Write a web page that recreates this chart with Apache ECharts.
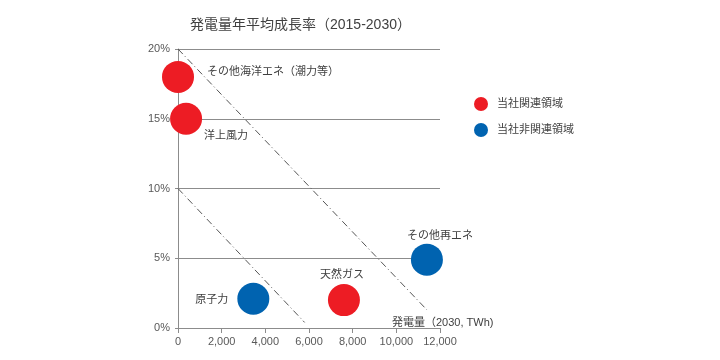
<!DOCTYPE html>
<html><head><meta charset="utf-8">
<script src="https://cdn.jsdelivr.net/npm/echarts@6/dist/echarts.min.js"></script>
<style>html,body{margin:0;padding:0;background:#fff}#c{width:720px;height:360px}</style>
</head><body><div id="c"></div>
<script>
const title = '発電量年平均成長率（2015-2030）';
const xName = '発電量（2030, TWh)';
const seriesNames = ['当社関連領域', '当社非関連領域'];
// [name, x (TWh 2030), growth %]
const relatedNames = ['その他海洋エネ（潮力等）', '洋上風力', '天然ガス'];
const relatedX = [0, 370, 7600];
const relatedY = [18.0, 15.0, 2.0];
const unrelatedNames = ['原子力', 'その他再エネ'];
const unrelatedX = [3450, 11400];
const unrelatedY = [2.1, 4.9];
// reference lines (dash-dot)
const line1X = [0, 11400];
const line1Y = [20, 1.3];
const line2X = [0, 5800];
const line2Y = [10, 0.4];

const font = '"Liberation Sans", "Noto Sans CJK JP", sans-serif';
const labelCfg = {
  'その他海洋エネ（潮力等）': {position: 'right', distance: 13, offset: [0, -5]},
  '洋上風力': {position: 'right', distance: 2, offset: [0, 17]},
  '天然ガス': {position: 'top', distance: 5, offset: [-2, 1]},
  '原子力': {position: 'left', distance: 9, offset: [0, 1]},
  'その他再エネ': {position: 'top', distance: 4, offset: [13, 2]}
};
function mk(names, xs, ys) {
  return names.map((n, i) => ({
    name: n, value: [xs[i], ys[i]],
    label: Object.assign({show: true, formatter: n, color: '#404040', fontSize: 11, fontFamily: font}, labelCfg[n])
  }));
}
const RED = '#ED1C24', BLUE = '#0063B0';
const chart = echarts.init(document.getElementById('c'), null, {renderer: 'canvas'});
chart.setOption({
  animation: false,
  title: {text: title, left: 185, top: 13, textStyle: {fontSize: 14, fontWeight: 'normal', color: '#404040', fontFamily: font}},
  grid: {left: 178, right: 280, top: 49, bottom: 32, containLabel: false},
  legend: {
    orient: 'vertical', left: 469, top: 92, itemWidth: 22, itemHeight: 14, itemGap: 12,
    icon: 'circle', data: seriesNames,
    textStyle: {fontSize: 11, color: '#404040', fontFamily: font}
  },
  xAxis: {
    type: 'value', min: 0, max: 12000, interval: 2000,
    name: xName, nameLocation: 'end', nameGap: -48,
    nameTextStyle: {align: 'left', verticalAlign: 'bottom', fontSize: 11, color: '#404040', fontFamily: font},
    axisLine: {show: true, lineStyle: {color: '#8c8c8c'}},
    axisTick: {show: true, length: 5, lineStyle: {color: '#8c8c8c'}},
    axisLabel: {fontSize: 11, color: '#595959', fontFamily: font, margin: 8,
      formatter: v => v.toLocaleString('en-US')},
    splitLine: {show: false}
  },
  yAxis: {
    type: 'value', min: 0, max: 20, interval: 5,
    axisLine: {show: true, lineStyle: {color: '#8c8c8c'}},
    axisTick: {show: true, length: 3, lineStyle: {color: '#8c8c8c'}},
    axisLabel: {fontSize: 11, color: '#595959', fontFamily: font, formatter: '{value}%', margin: 8},
    splitLine: {show: true, lineStyle: {color: '#8c8c8c'}}
  },
  series: [
    {type: 'line', data: line1X.map((x, i) => [x, line1Y[i]]), symbol: 'none', silent: true,
      lineStyle: {color: '#555', width: 1, type: [7, 3, 1, 3]}, z: 1},
    {type: 'line', data: line2X.map((x, i) => [x, line2Y[i]]), symbol: 'none', silent: true,
      lineStyle: {color: '#555', width: 1, type: [7, 3, 1, 3]}, z: 1},
    {name: seriesNames[0], type: 'scatter', symbolSize: 32, itemStyle: {color: RED, opacity: 1},
      data: mk(relatedNames, relatedX, relatedY), z: 3},
    {name: seriesNames[1], type: 'scatter', symbolSize: 32, itemStyle: {color: BLUE, opacity: 1},
      data: mk(unrelatedNames, unrelatedX, unrelatedY), z: 3}
  ]
});
</script></body></html>
